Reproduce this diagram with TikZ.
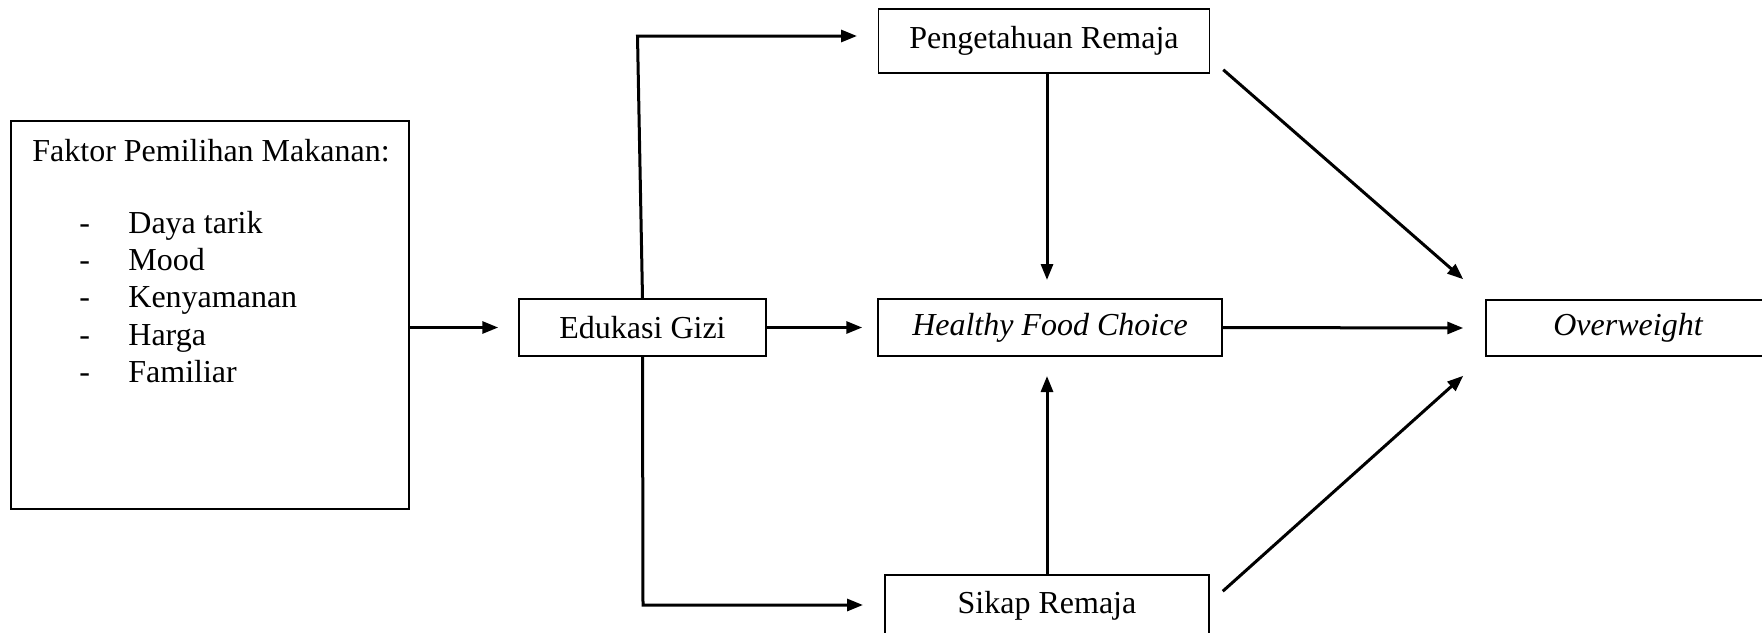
\documentclass[tikz,border=0pt]{standalone}
\usepackage{fontspec}
\setmainfont{Liberation Serif}
\usetikzlibrary{arrows.meta}
\begin{document}
\begin{tikzpicture}[x=0.5pt,y=-0.5pt,
  box/.style={draw, line width=0.75pt, inner sep=0pt, font=\fontsize{16}{19}\selectfont},
  arr/.style={line width=1.5pt, -{Triangle[length=8pt,width=6pt]}},
  lbl/.style={font=\fontsize{16}{19}\selectfont, inner sep=0pt, anchor=base west}]
\useasboundingbox (0,0) rectangle (1762,632);
% boxes
\node[box, minimum width=199pt, minimum height=194pt] (factor) at (210,315) {};
\node[lbl] (title) at (32,161) {Faktor Pemilihan Makanan:};
\node[lbl] (d1) at (79,233) {-};
\node[lbl] (d2) at (79,270.5) {-};
\node[lbl] (d3) at (79,307.5) {-};
\node[lbl] (d4) at (79,345) {-};
\node[lbl] (d5) at (79,382) {-};
\node[lbl] (i1) at (128,233) {Daya tarik};
\node[lbl] (i2) at (128,270.5) {Mood};
\node[lbl] (i3) at (128,307.5) {Kenyamanan};
\node[lbl] (i4) at (128,345) {Harga};
\node[lbl] (i5) at (128,382) {Familiar};

\node[box, minimum width=123.5pt, minimum height=28.5pt] (edu) at (642.5,327.5) {Edukasi Gizi};
\node[box, minimum width=165.5pt, minimum height=32pt] (pen) at (1044,41) {Pengetahuan Remaja};
\node[box, minimum width=172pt, minimum height=28.5pt] (hfc) at (1050,327.5) {\itshape Healthy Food Choice};
\node[box, minimum width=162pt, minimum height=30.5pt] (sik) at (1047,605.5) {Sikap Remaja};
\node[box, minimum width=142pt, minimum height=28pt] (ow) at (1628,328) {\itshape Overweight};

% connector points
\coordinate (c1) at (637.5,36);
\coordinate (t1) at (857,36);
\coordinate (c2) at (643,605);
\coordinate (t2) at (863,605);
\coordinate (t3) at (1047,280);
\coordinate (t4) at (1047,376);

% arrows
\draw[arr] (factor.east |- edu.west) -- ([xshift=-10pt]edu.west);
\draw[arr] (edu.east) -- ([xshift=-7.5pt]hfc.west);
\draw[arr] (edu.north) -- (c1) -- (t1);
\draw[arr] (edu.south) -- (c2) -- (t2);
\draw[arr] (pen.south -| t3) -- (t3);
\draw[arr] (sik.north -| t4) -- (t4);
\draw[arr] (hfc.east) -- ([xshift=-11pt]ow.west);
\draw[arr] ([xshift=6.5pt,yshift=2pt]pen.south east) -- ([xshift=-11pt,yshift=10pt]ow.north west);
\draw[arr] ([xshift=6.5pt,yshift=-8.5pt]sik.north east) -- ([xshift=-11pt,yshift=-9.5pt]ow.south west);
\end{tikzpicture}
\end{document}
